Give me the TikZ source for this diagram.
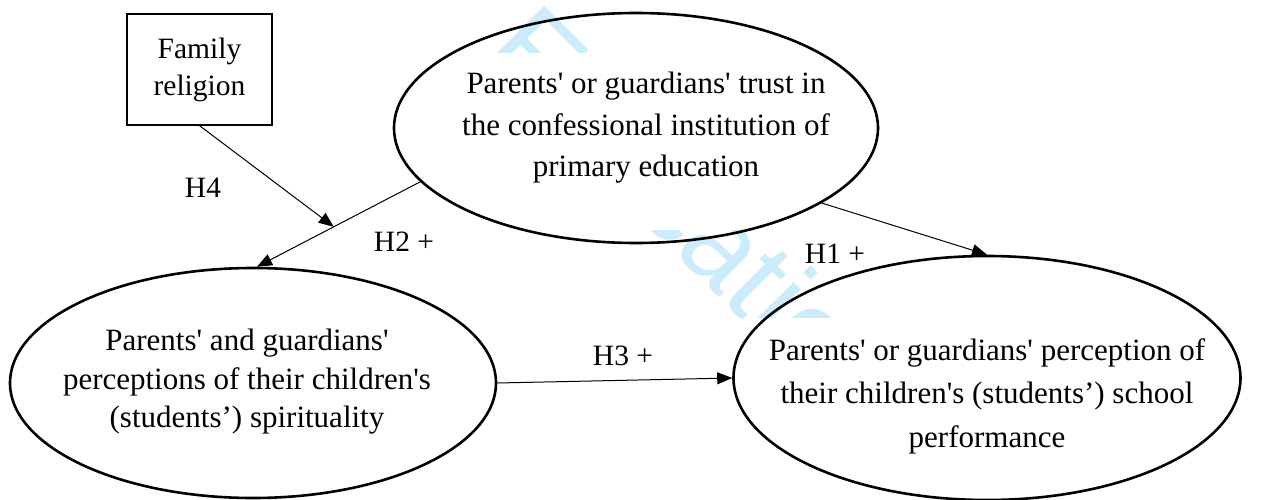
\documentclass[tikz,border=0pt]{standalone}
\usepackage{fontspec}
\setmainfont{Liberation Serif}[Ligatures=TeXOff]
\newfontfamily\markfont{Liberation Sans}
\usetikzlibrary{arrows.meta,shapes.geometric}
\definecolor{markblue}{RGB}{204,236,251}

\begin{document}
\begin{tikzpicture}[
    x=1pt, y=-1pt,
    font=\fontsize{29.5}{41}\selectfont,
    construct/.style={draw, ellipse, line width=2.6pt, inner sep=0pt},
    observed/.style={draw, line width=1.3pt, align=center, minimum width=145pt, minimum height=111pt, inner sep=0pt},
    hyp/.style={inner sep=0pt},
    link/.style={-{Triangle[length=15pt, width=12pt]}, line width=1pt},
]
\fill[white] (0,0) rectangle (1269,500);
\useasboundingbox (0,0) rectangle (1269,500);

% watermark, partly hidden by the text boxes
\node[rotate=-45, anchor=base west, inner sep=0pt, text=markblue, font=\markfont\fontsize{120}{120}\selectfont] (mark) at (479,57) {Education};
\fill[white] (440,53) rectangle (850,230);
\fill[white] (750,318) rectangle (1225,470);

\node[observed, font=\fontsize{29.5}{37}\selectfont] (religion) at (199.5,69.5) {Family\\religion};

\node[construct, minimum width=484pt, minimum height=230pt,
      label={[align=center, xshift=10pt, font=\fontsize{31}{41.5}\selectfont]center:{Parents' or guardians' trust in\\the confessional institution of\\primary education}}] (trust) at (636,128) {};
\node[construct, minimum width=486pt, minimum height=230pt,
      label={[align=center, xshift=-6pt, yshift=1pt, font=\fontsize{31}{38.5}\selectfont]center:{Parents' and guardians'\\perceptions of their children's\\(students’) spirituality}}] (spirit) at (253,383) {};
\node[construct, minimum width=507pt, minimum height=244pt,
      label={[align=center, yshift=-18pt, font=\fontsize{31}{43.5}\selectfont]center:{Parents' or guardians' perception of\\their children's (students’) school\\performance}}] (perf) at (987,378) {};

\draw[link] (trust.194) -- (spirit.88) coordinate[pos=0.53] (mod);
\draw[link] (religion.south) -- (mod);
\draw[link] (trust.-22.6) -- (perf.north);
\draw[link] (spirit.east) -- (perf.west);

\node[hyp] (h4) at (203,188) {H4};
\node[hyp] (h2) at (404,242) {H2 +};
\node[hyp] (h1) at (835,254) {H1 +};
\node[hyp] (h3) at (623,356) {H3 +};
\end{tikzpicture}
\end{document}
